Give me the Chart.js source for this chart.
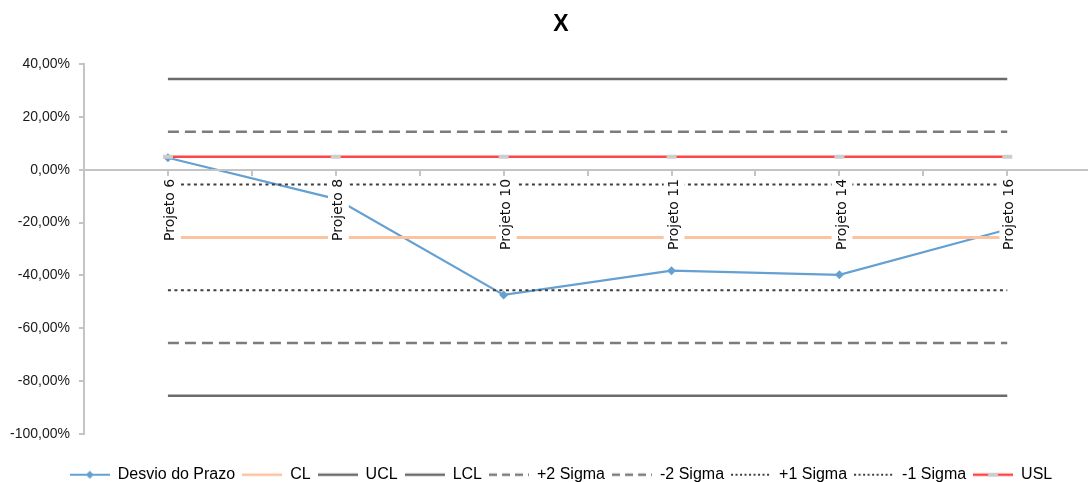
<!DOCTYPE html>
<html><head><meta charset="utf-8">
<script src="https://cdn.jsdelivr.net/npm/chart.js@4"></script>
<style>html,body{margin:0;padding:0;overflow:hidden;background:#fff}#wrap{width:1122px;height:500px}</style>
</head><body><div id="wrap"><canvas id="c" width="1122" height="500"></canvas></div>
<script>
// ---- data (percent) ----
const categories = ['Projeto 6','Projeto 8','Projeto 10','Projeto 11','Projeto 14','Projeto 16'];
const desvioPrazo = [4.6, -11.0, -47.4, -38.2, -39.8, -22.6];
const clValues    = [-25.6, -25.6, -25.6, -25.6, -25.6, -25.6];
const uclValues   = [34.4, 34.4, 34.4, 34.4, 34.4, 34.4];
const lclValues   = [-85.6, -85.6, -85.6, -85.6, -85.6, -85.6];
const plus2Sigma  = [14.4, 14.4, 14.4, 14.4, 14.4, 14.4];
const minus2Sigma = [-65.6, -65.6, -65.6, -65.6, -65.6, -65.6];
const plus1Sigma  = [-5.6, -5.6, -5.6, -5.6, -5.6, -5.6];
const minus1Sigma = [-45.6, -45.6, -45.6, -45.6, -45.6, -45.6];
const uslValues   = [5, 5, 5, 5, 5, 5];
const yTickValues = [40, 20, 0, -20, -40, -60, -80, -100];
const seriesNames = ['Desvio do Prazo','CL','UCL','LCL','+2 Sigma','-2 Sigma','+1 Sigma','-1 Sigma','USL'];

// category i sits on slot 2*i+1 of the axis
const toPoints = arr => arr.map((v, i) => ({x: 2 * i + 1, y: v}));
const fmtPct = v => v.toFixed(2).replace('.', ',') + '%';

function icon(color, width, dash, marker) {
  const c = document.createElement('canvas'); c.width = 40; c.height = 12;
  const g = c.getContext('2d');
  g.strokeStyle = color; g.lineWidth = width; g.setLineDash(dash || []);
  g.beginPath(); g.moveTo(0, 6); g.lineTo(40, 6); g.stroke();
  g.setLineDash([]);
  if (marker === 'diamond') {
    g.fillStyle = color; g.beginPath();
    g.moveTo(20, 2); g.lineTo(24, 6); g.lineTo(20, 10); g.lineTo(16, 6); g.closePath(); g.fill();
  } else if (marker === 'dash') {
    g.fillStyle = '#cdcdcd'; g.fillRect(15, 4, 10, 4);
  }
  return c;
}

const BLUE = '#64a0d2', PEACH = '#fbc3a0', GRAY = '#6b6b6b', DGRAY = '#7c7c7c', DOT = '#3f3f3f', RED = '#ff4545';
const styles = [
  {c: BLUE, w: 2.2, d: [], m: 'diamond'},
  {c: PEACH, w: 3, d: []},
  {c: GRAY, w: 2.5, d: []},
  {c: GRAY, w: 2.5, d: []},
  {c: DGRAY, w: 2.5, d: [11, 6]},
  {c: DGRAY, w: 2.5, d: [11, 6]},
  {c: DOT, w: 2, d: [3, 3.5]},
  {c: DOT, w: 2, d: [3, 3.5]},
  {c: RED, w: 2.5, d: [], m: 'dash'}
];
const legendDash = [[], [], [], [], [8, 5], [8, 5], [2, 2.5], [2, 2.5], []];
const icons = styles.map((s, i) => icon(s.c, Math.min(s.w, 2.5), legendDash[i], s.m));

const seriesData = [desvioPrazo, clValues, uclValues, lclValues, plus2Sigma, minus2Sigma, plus1Sigma, minus1Sigma, uslValues];
const datasets = seriesData.map((arr, i) => {
  const s = styles[i];
  const ds = {
    label: seriesNames[i], data: toPoints(arr),
    borderColor: s.c, backgroundColor: s.c, borderWidth: s.w, borderDash: s.d,
    pointRadius: 0, tension: 0, fill: false
  };
  if (i === 0) { ds.pointStyle = 'rectRot'; ds.pointRadius = 4.5; ds.pointBackgroundColor = BLUE; ds.pointBorderWidth = 0; }
  if (i === 8) { ds.pointStyle = 'line'; ds.pointRadius = 5; ds.pointBorderColor = '#cdcdcd'; ds.pointBorderWidth = 4; }
  return ds;
}).reverse();

const X_FONT = 14;
new Chart(document.getElementById('c'), {
  type: 'line',
  data: { datasets },
  options: {
    responsive: false, animation: false, devicePixelRatio: 1,
    layout: { padding: { left: 0, right: 0, top: 0, bottom: 7.3 } },
    scales: {
      x: {
        type: 'linear', min: 0, max: 12.26, position: { y: 0 },
        afterFit: s => { s.height = 0; },
        border: { color: '#c4c4c4', width: 2, z: 1 },
        grid: { drawOnChartArea: false, drawTicks: true, tickLength: 5, color: '#c4c4c4', lineWidth: 2, z: 1 },
        ticks: {
          z: 2,
          stepSize: 1, autoSkip: false, minRotation: 90, maxRotation: 90, includeBounds: false, padding: 4,
          labelOffset: -5.8,
          font: { family: 'DejaVu Sans', size: X_FONT }, color: '#111',
          callback: v => (v % 2 === 1 ? categories[(v - 1) / 2] : ''),
          showLabelBackdrop: true,
          backdropColor: c => (c.tick && c.tick.value % 2 === 1) ? '#ffffff' : 'rgba(255,255,255,0)',
          backdropPadding: { top: 2, bottom: 2, left: 3, right: 3 }
        }
      },
      y: {
        min: -100, max: 40,
        afterFit: s => { s.width = 84; },
        afterBuildTicks: s => { s.ticks = yTickValues.slice().reverse().map(v => ({ value: v })); },
        border: { color: '#c4c4c4', width: 2 },
        grid: { drawOnChartArea: false, drawTicks: true, tickLength: 5, color: '#c4c4c4', lineWidth: 2 },
        ticks: { stepSize: 20, padding: 9, callback: v => fmtPct(v), font: { family: 'Liberation Sans', size: 14 }, color: '#1a1a1a' }
      }
    },
    plugins: {
      tooltip: { enabled: false },
      title: { display: true, text: 'X', color: '#000', font: { family: 'Liberation Sans', size: 23, weight: 'bold', lineHeight: 1.2 }, padding: { top: 11.2, bottom: 25.5 } },
      legend: {
        position: 'bottom',
        title: { display: true, text: '', padding: { top: 25, bottom: 0 }, font: { size: 1, lineHeight: 1 } },
        labels: {
          usePointStyle: true, pointStyleWidth: 40, boxHeight: 12, padding: 7,
          font: { family: 'Liberation Sans', size: 16 }, color: '#000',
          generateLabels: () => seriesNames.map((n, i) => ({ text: n, pointStyle: icons[i], fontColor: '#000', fillStyle: 'rgba(0,0,0,0)', strokeStyle: 'rgba(0,0,0,0)', lineWidth: 0, hidden: false, datasetIndex: 8 - i }))
        }
      }
    }
  }
});
</script>
</body></html>
